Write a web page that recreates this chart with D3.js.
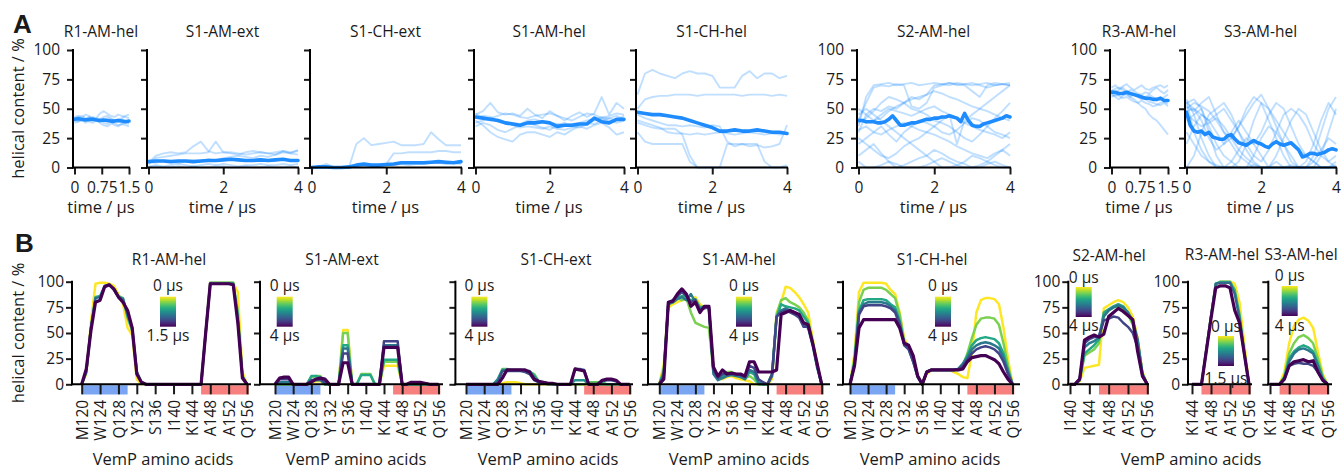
<!DOCTYPE html>
<html>
<head>
<meta charset="utf-8">
<script src="https://cdn.jsdelivr.net/npm/d3@7"></script>
<style>
  body { margin: 0; background: #fff; }
  text { font-family: "Open Sans", "Noto Sans", sans-serif; font-size: 15.5px; fill: #1a1a1a; }
  .axtitle { font-size: 16.5px; }
</style>
</head>
<body>
<svg id="fig" width="1342" height="470"></svg>
<script>
// ---- A: helical content over time (replicas + mean), values in %
const r1TopMean = [41,41.5,41,40.5,41,41,40.5,40,40.5,40,39.5,39.5,40,39.5,39,39.5];
const r1TopReps = [
  [43,44,42,45,44,41,42,46,48,46,44,43,45,44,43,42],
  [40,39,41,38,40,42,40,38,36,35,37,38,36,37,36,35],
  [42,43,44,42,41,43,42,41,43,44,42,40,41,42,44,45],
  [38,39,40,41,39,38,40,41,38,37,39,36,35,37,38,37],
  [41,42,40,41,43,42,41,39,40,42,41,40,39,41,40,38]
];
const s1AmExtMean = [5,5.5,5.5,5,5.5,5.5,5,5.5,6,6,6.5,7,6.5,6,6,6.5,6,6.5,7,6,6];
const s1AmExtReps = [
  [4,10,12,13,12,13,18,22,14,12,13,13,12,11,12,13,12,11,14,12,15],
  [3,8,9,10,11,12,12,12,13,22,13,12,11,13,14,13,12,13,14,13,14],
  [5,4,6,5,4,5,6,5,7,6,8,9,10,9,8,10,9,11,13,12,11],
  [1,2,1,2,3,2,1,2,3,2,3,2,1,2,2,3,2,2,3,2,3],
  [0,1,0,0,1,0,1,0,0,1,1,0,0,1,0,0,1,0,0,1,0]
];
const s1ChExtMean = [0,0.5,0.5,0,0,0.5,2,3,2,2,2.5,3,4,4,4,4,4.5,5,4.5,4,5];
const s1ChExtReps = [
  [0,0,0,0,0,0,20,25,19,20,21,22,19,19,19,20,30,24,19,19,19],
  [0,1,3,0,0,0,0,0,1,2,3,12,12,13,13,13,13,14,14,13,13],
  [0,0,0,0,0,0,1,1,2,1,2,2,3,2,3,3,4,4,3,4,3]
];
const s1AmHelMean = [43,42,41,40,38,37,36,38,38,39,38,35,36,36,37,37,42,39,38,41,41];
const s1AmHelReps = [
  [45,48,55,47,45,46,44,50,45,42,48,44,40,44,47,43,46,60,45,55,50],
  [40,36,30,26,24,22,28,30,30,28,26,30,28,32,35,33,36,38,34,28,30],
  [42,44,43,40,38,36,34,35,34,33,35,33,32,34,36,38,37,40,42,40,44],
  [38,40,42,44,46,45,43,42,44,45,46,44,42,40,43,46,45,42,44,46,45],
  [35,38,36,32,30,33,36,38,36,34,32,36,38,35,34,37,40,42,40,38,40],
  [46,42,40,41,39,38,37,40,41,39,38,37,36,37,38,40,41,43,42,44,41]
];
const s1ChHelMean = [47,46,45,45,44,43,42,40,38,36,34,31,31,32,31,31,32,31,30,30,29];
const s1ChHelReps = [
  [62,80,83,80,78,76,80,82,80,80,78,68,68,68,78,82,76,80,80,76,78],
  [50,58,60,61,61,62,62,62,61,62,62,62,62,62,61,62,62,62,61,62,61],
  [40,38,36,34,30,29,29,28,29,28,29,30,29,28,29,30,29,28,29,28,29],
  [38,36,34,33,33,33,28,10,0,0,0,0,0,0,0,0,0,0,0,0,2],
  [30,22,20,20,20,20,20,5,0,0,0,0,20,20,20,20,20,5,0,0,0],
  [45,42,40,38,36,36,35,36,35,34,36,35,22,18,20,18,19,17,18,20,36]
];
const s2AmHelMean = [40,40,39,39,39,38,38,39,41,44,40,36,36,37,38,38,39,40,41,41,42,42,43,43,44,43,42,39,46,40,36,35,35,37,38,39,40,41,42,44,43];
const s2AmHelReps = [
  [35,60,70,71,72,70,71,72,70,71,72,71,70,72,71,70,71,72,70,71,70],
  [40,55,68,70,69,71,70,52,50,55,68,70,72,71,70,65,60,70,72,71,70],
  [30,45,50,48,52,50,55,60,58,62,70,71,72,70,71,72,70,68,70,71,72],
  [42,38,40,45,50,48,46,44,47,50,52,48,45,20,40,45,50,55,60,65,70],
  [20,25,30,35,28,22,30,35,40,38,35,30,28,32,38,42,40,35,30,28,25],
  [10,15,20,12,5,0,2,5,8,10,15,12,8,5,3,0,2,5,10,15,20],
  [45,50,45,40,35,30,25,20,15,10,5,0,0,2,5,10,8,5,2,0,0],
  [38,42,48,55,60,58,55,50,48,45,40,38,35,30,25,22,28,35,42,48,55],
  [25,20,15,10,8,12,18,22,25,30,28,25,22,18,15,12,10,8,12,15,10],
  [50,45,40,42,48,52,55,58,60,62,65,63,60,58,55,52,50,48,45,42,40],
  [5,0,0,2,5,3,0,0,0,2,5,8,5,2,0,0,0,3,5,2,0],
  [32,35,30,28,32,35,38,35,32,30,35,40,45,42,38,35,32,30,28,25,30]
];
const r3TopMean = [64,64,63,63,64,63,62,61,60,59,59,58,58,59,57,57];
const r3TopReps = [
  [68,70,67,69,71,68,66,68,70,67,66,68,69,70,68,70],
  [62,60,58,61,63,60,58,55,52,50,45,42,40,36,32,28],
  [66,64,66,68,65,63,62,60,58,60,62,60,57,58,60,62],
  [60,62,61,59,60,58,56,55,57,55,54,52,53,55,56,54],
  [65,67,68,66,64,66,65,63,62,64,63,66,68,65,63,66],
  [63,61,62,64,62,60,63,61,59,58,56,55,54,53,55,52]
];
const s3AmHelMean = [47,36,31,30,31,28,30,26,25,24,24,27,28,24,21,20,19,21,23,21,20,18,17,20,22,20,19,20,21,18,15,9,10,12,12,11,12,13,15,16,15];
const s3AmHelReps = [
  [55,58,50,30,10,0,0,5,20,40,55,50,35,20,5,0,0,10,30,50,60],
  [58,45,25,10,0,0,0,0,0,2,0,0,5,0,0,0,0,0,0,0,2],
  [50,55,52,48,40,30,20,10,5,0,0,0,0,0,2,0,0,0,0,0,0],
  [0,10,30,45,50,55,45,30,15,5,0,0,10,25,40,50,45,30,15,5,0],
  [45,40,35,38,42,35,25,15,8,3,0,0,0,0,0,0,0,0,0,0,0],
  [52,48,55,60,45,30,25,35,50,60,55,40,25,10,0,0,0,5,15,25,20],
  [30,20,10,5,0,0,5,15,25,20,10,0,0,0,0,0,5,20,40,55,45],
  [48,50,40,25,15,20,30,40,30,20,30,45,55,50,35,20,10,5,0,0,0],
  [56,30,15,5,2,0,0,0,0,0,0,0,0,0,0,0,0,0,0,0,0],
  [40,45,50,35,20,10,5,0,0,10,25,35,30,20,10,0,0,0,10,30,50],
  [20,35,45,40,30,20,25,35,45,55,62,50,40,30,20,15,10,5,0,0,5],
  [55,50,45,40,45,50,40,30,20,10,5,15,30,45,50,45,35,20,10,5,10]
];

// ---- B: per-residue helical content, one profile per time snapshot (first = 0 us)
const r1Profiles = [
  [0,10,60,98,99,99,98,96,88,78, 55,48,5,0,0,0,0,0,0,0, 0,0,0,0,0,0,0,50,99,99, 99,99,99,99,90,12,0],
  [0,12,55,85,86,95,97,93,86,84, 65,52,12,2,0,0,0,0,0,0, 0,0,0,0,0,0,0,50,99,99, 99,99,99,99,70,8,0],
  [0,12,55,84,85,96,97,92,85,83, 68,55,12,2,0,0,0,0,0,0, 0,0,0,0,0,0,0,50,98,98, 98,98,98,98,62,8,0],
  [0,15,52,80,82,95,97,93,85,80, 72,55,10,2,0,0,0,0,0,0, 0,0,0,0,0,0,0,50,98,98, 98,98,98,97,60,6,0]
];
const s1AmExtProfiles = [
  [0,0,0,0,0,0,0,0,2,3, 3,0,0,0,0,53,53,0,0,0, 0,0,0,0,18,18,18,18,0,0, 0,0,0,0,0,0,0],
  [0,0,0,0,0,0,0,0,7,8, 8,0,0,0,0,50,50,0,0,10, 10,10,0,0,22,22,22,22,0,0, 0,0,0,0,0,0,0],
  [0,0,0,0,0,0,0,0,8,8, 7,0,0,0,0,38,38,0,0,9, 9,9,0,0,24,24,24,24,0,0, 0,0,0,0,0,0,0],
  [0,2,2,2,0,0,0,0,3,4, 4,0,0,0,0,35,35,0,0,0, 0,0,0,0,38,38,38,38,0,0, 0,0,0,0,0,0,0],
  [0,5,5,5,0,0,0,0,4,5, 5,2,0,0,0,30,30,0,0,0, 0,0,0,0,42,42,42,42,0,0, 1,1,1,1,0,0,0],
  [0,6,7,7,0,0,0,0,2,5, 6,5,0,0,0,21,21,0,0,0, 0,0,0,0,36,36,36,36,0,0, 2,2,2,1,0,0,0]
];
const s1ChExtProfiles = [
  [0,0,0,0,0,0,0,0,1,2, 2,2,1,0,0,0,0,0,0,0, 0,0,0,0,0,0,0,0,0,0, 0,0,0,0,0,0,0],
  [0,0,0,0,0,0,0,4,15,15, 14,14,14,13,12,10,3,2,1,1, 0,0,0,0,0,0,0,2,2,2, 2,0,0,0,0,0,0],
  [0,0,0,0,0,0,0,5,14,14, 14,14,14,13,13,8,2,2,1,0, 0,0,0,0,4,4,4,0,0,0, 0,0,0,0,0,0,0],
  [0,0,0,0,0,0,0,2,13,13, 13,13,13,12,10,4,2,1,0,0, 0,0,0,0,15,15,14,0,0,0, 3,4,4,3,0,0,0],
  [0,0,0,0,0,0,0,0,6,14, 14,14,14,14,12,5,3,2,1,1, 0,0,0,0,15,14,13,0,0,0, 4,5,5,4,0,0,0]
];
const s1AmHelProfiles = [
  [0,20,75,78,80,82,83,80,85,78, 75,74,15,6,5,7,8,6,5,4, 3,0,0,0,0,5,70,80,95,94, 90,85,78,70,45,20,0],
  [0,15,78,80,85,82,84,70,60,58, 56,55,12,8,10,12,12,10,8,6, 8,5,0,0,0,10,68,82,84,80, 78,75,70,62,42,18,0],
  [0,12,80,80,84,86,85,82,83,75, 76,75,12,5,8,10,10,9,8,5, 12,10,0,0,0,10,65,78,76,75, 74,72,66,60,40,18,0],
  [0,10,78,80,83,85,82,88,80,74, 75,74,10,4,6,8,9,8,7,5, 14,12,2,0,0,8,66,72,74,72, 70,68,58,55,38,16,0],
  [0,8,80,82,86,90,86,80,82,72, 74,75,14,6,10,10,10,10,9,7, 18,16,5,2,0,10,66,70,72,70, 68,65,56,56,40,18,0],
  [0,5,80,81,88,93,88,76,80,70, 76,76,17,8,14,10,11,10,10,8, 22,22,12,12,12,12,14,68,70,72, 70,68,60,58,40,20,0]
];
const s1ChHelProfiles = [
  [0,30,90,99,99,99,99,99,98,92, 88,70,45,36,25,8,0,10,14,14, 14,14,14,12,10,7,6,30,70,82, 84,84,83,78,55,25,0],
  [0,25,80,92,94,94,94,94,92,88, 84,68,42,36,24,8,0,12,14,14, 14,14,14,14,14,18,30,45,58,64, 65,65,64,58,40,18,0],
  [0,22,72,82,83,83,83,83,82,78, 75,62,40,35,24,8,0,12,14,14, 14,14,14,14,15,20,28,38,43,45, 46,45,44,40,30,14,0],
  [0,20,70,78,80,80,80,80,79,76, 72,60,40,34,22,7,0,12,14,14, 14,14,14,14,15,20,26,34,38,40, 41,40,38,35,26,12,0],
  [0,20,68,76,77,77,77,77,76,74, 70,58,38,34,22,7,0,12,14,14, 14,14,14,14,15,18,24,30,34,36, 37,36,34,30,22,10,0],
  [0,18,55,63,63,63,63,63,63,63, 63,55,40,38,28,8,0,12,14,14, 14,14,14,14,14,15,22,26,27,28, 28,26,24,20,12,5,0]
];
const s2Profiles = [  // residues 140..156
  [0,0,3,16,17,18,19,74,77,80,82,80,75,66,45,12,0],
  [0,0,4,28,31,34,40,68,72,75,76,73,68,58,40,10,0],
  [0,0,4,30,34,38,44,70,73,76,78,76,70,60,42,10,0],
  [0,0,5,36,40,42,46,66,72,75,77,75,70,62,44,10,0],
  [0,0,5,40,44,46,47,62,64,66,65,60,56,50,36,8,0],
  [0,0,5,43,46,48,46,49,66,70,74,71,67,63,32,8,0]
];
const r3Profiles = [  // residues 144..156
  [0,0,0,33,66,97,100,100,100,98,80,40,0],
  [0,0,0,33,66,98,100,100,100,92,68,32,0],
  [0,0,0,33,66,98,99,99,99,88,64,30,0],
  [0,0,0,32,64,94,96,96,94,72,60,30,0]
];
const s3Profiles = [  // residues 144..156
  [0,0,0,12,40,57,63,65,62,55,32,10,0],
  [0,0,0,8,30,40,46,48,45,40,25,8,0],
  [0,0,0,7,25,32,36,38,36,32,20,6,0],
  [0,0,0,6,22,30,34,35,33,30,18,5,0],
  [0,0,0,5,18,20,21,20,20,18,12,4,0],
  [0,0,0,5,18,22,23,24,22,23,12,4,0]
];

const residueTicks = [120,124,128,132,136,140,144,148,152,156];
const residueNames = ["M120","W124","Q128","Y132","S136","I140","K144","A148","A152","Q156"];
const pctTicks = [0,25,50,75,100];
const blueSegment = [120,130];
const redSegment = [146,156.4];

// ---- layout
const svg = d3.select("#fig");
const blue = "#1e8cff";

const topPanels = [
  {title:"R1-AM-hel", mean:r1TopMean, reps:r1TopReps, tmax:1.5, ticks:[0,0.75,1.5], x0:73, x1:129, yLab:true},
  {title:"S1-AM-ext", mean:s1AmExtMean, reps:s1AmExtReps, tmax:4, ticks:[0,2,4], x0:147, x1:298},
  {title:"S1-CH-ext", mean:s1ChExtMean, reps:s1ChExtReps, tmax:4, ticks:[0,2,4], x0:310, x1:461},
  {title:"S1-AM-hel", mean:s1AmHelMean, reps:s1AmHelReps, tmax:4, ticks:[0,2,4], x0:474, x1:624},
  {title:"S1-CH-hel", mean:s1ChHelMean, reps:s1ChHelReps, tmax:4, ticks:[0,2,4], x0:636, x1:787},
  {title:"S2-AM-hel", mean:s2AmHelMean, reps:s2AmHelReps, tmax:4, ticks:[0,2,4], x0:857, x1:1010, yLab:true},
  {title:"R3-AM-hel", mean:r3TopMean, reps:r3TopReps, tmax:1.5, ticks:[0,0.75,1.5], x0:1110, x1:1168, yLab:true},
  {title:"S3-AM-hel", mean:s3AmHelMean, reps:s3AmHelReps, tmax:4, ticks:[0,2,4], x0:1185, x1:1336}
];

const botPanels = [
  {title:"R1-AM-hel", prof:r1Profiles, start:120, rng:[81.7,247], spine:72, end:251, tx:169, ty:265, lx:163, yLab:true,
   cb:{x:160, y:296.7, tb:291, bb:341, bot:"1.5 µs"}},
  {title:"S1-AM-ext", prof:s1AmExtProfiles, start:120, rng:[275,438.5], spine:260, end:443, tx:342, ty:265, lx:356,
   cb:{x:276.7, y:296.7, tb:291, bb:341, bot:"4 µs"}},
  {title:"S1-CH-ext", prof:s1ChExtProfiles, start:120, rng:[466,629.6], spine:455.4, end:633, tx:556, ty:265, lx:548,
   cb:{x:471.4, y:296.7, tb:291, bb:341, bot:"4 µs"}},
  {title:"S1-AM-hel", prof:s1AmHelProfiles, start:120, rng:[659.3,821.7], spine:648, end:830, tx:739, ty:265, lx:739,
   cb:{x:736, y:296.7, tb:291, bb:341, bot:"4 µs"}},
  {title:"S1-CH-hel", prof:s1ChHelProfiles, start:120, rng:[850,1012.5], spine:843, end:1020, tx:932, ty:265, lx:930,
   cb:{x:935, y:296.7, tb:291, bb:341, bot:"4 µs"}},
  {title:"S2-AM-hel", prof:s2Profiles, start:140, rng:[1070,1147.3], spine:1068.3, end:1149, tx:1109, ty:261, yLab:true,
   cb:{x:1075.7, y:287, tb:283, bb:331, bot:"4 µs"}},
  {title:"R3-AM-hel", prof:r3Profiles, start:144, rng:[1192,1249], spine:1188, end:1252, tx:1222, ty:260, yLab:true,
   cb:{x:1218, y:336, tb:332, bb:384, bot:"1.5 µs"}},
  {title:"S3-AM-hel", prof:s3Profiles, start:144, rng:[1270,1327.5], spine:1268.3, end:1332, tx:1301, ty:260,
   cb:{x:1281.7, y:286, tb:281, bb:331, bot:"4 µs"}}
];

// viridis gradient for the little time colour bars
const defs = svg.append("defs");
const grad = defs.append("linearGradient").attr("id","vir").attr("x1",0).attr("y1",0).attr("x2",0).attr("y2",1);
d3.range(11).forEach(k => grad.append("stop").attr("offset", k/10).attr("stop-color", d3.interpolateViridis(1 - k/10)));

function styleAxis(g) {
  g.attr("font-size", 15.5).attr("font-family", '"Open Sans", sans-serif').attr("color", "#1a1a1a");
  g.selectAll(".tick line").attr("stroke-width", 2);
  g.select(".domain").remove();
}

// ---------- row A
const yTop = d3.scaleLinear().domain([0,100]).range([167.5,50]);

topPanels.forEach(p => {
  const g = svg.append("g");
  const x = d3.scaleLinear().domain([0,p.tmax]).range([p.x0+1.5, p.x1]);
  const line = d3.line().x((d,i,a) => x(i*p.tmax/(a.length-1))).y(d => yTop(d));

  g.selectAll(".rep").data(p.reps).join("path")
    .attr("d", line).attr("fill","none").attr("stroke", blue)
    .attr("stroke-opacity", 0.28).attr("stroke-width", 1.9).attr("stroke-linejoin","round");
  g.append("path").datum(p.mean)
    .attr("d", line).attr("fill","none").attr("stroke", blue)
    .attr("stroke-width", 3.6).attr("stroke-linejoin","round").attr("stroke-linecap","round");

  g.append("g").attr("transform", `translate(${p.x0},0)`)
    .call(d3.axisLeft(yTop).tickValues(pctTicks).tickSize(6).tickPadding(7)
      .tickFormat(p.yLab ? d3.format("d") : () => ""))
    .call(styleAxis);
  g.append("g").attr("transform", `translate(0,${yTop(0)})`)
    .call(d3.axisBottom(x).tickValues(p.ticks).tickSize(7).tickPadding(7).tickFormat(d3.format("")))
    .call(styleAxis);
  // spines
  g.append("line").attr("x1",p.x0).attr("x2",p.x0).attr("y1",yTop(100)-1).attr("y2",yTop(0)+1)
    .attr("stroke","#000").attr("stroke-width",2);
  g.append("line").attr("x1",p.x0-1).attr("x2",p.x1+1).attr("y1",yTop(0)).attr("y2",yTop(0))
    .attr("stroke","#000").attr("stroke-width",2);

  g.append("text").attr("x",(p.x0+p.x1)/2).attr("y",36.5).attr("text-anchor","middle").text(p.title);
  g.append("text").attr("class","axtitle").attr("x",(p.x0+p.x1)/2).attr("y",213).attr("text-anchor","middle").text("time / µs");
});

// ---------- row B
const yBot = d3.scaleLinear().domain([0,100]).range([384.3,281.7]);

botPanels.forEach(p => {
  const g = svg.append("g");
  const lastRes = p.start + p.prof[0].length - 1;
  const x = d3.scaleLinear().domain([p.start, lastRes]).range(p.rng);
  const dom0 = x.invert(p.spine), dom1 = x.invert(p.end);

  // helix segment bars under the axis
  [[blueSegment,"#7aa5f3"],[redSegment,"#f77f7e"]].forEach(([seg,c]) => {
    const a = Math.max(seg[0], dom0), b = Math.min(seg[1], dom1);
    if (b > a) g.append("rect").attr("x",x(a)).attr("width",x(b)-x(a))
      .attr("y",385.3).attr("height",9.2).attr("fill",c);
  });

  const n = p.prof.length;
  const line = d3.line().x((d,i) => x(p.start+i)).y(d => yBot(d));
  g.selectAll(".prof").data(p.prof).join("path")
    .attr("d", line).attr("fill","none")
    .attr("stroke", (d,i) => d3.interpolateViridis(1 - i/(n-1)))
    .attr("stroke-width", (d,i) => i === n-1 ? 3.2 : 2.5)
    .attr("stroke-linejoin","round");

  const resTicks = residueTicks.filter(r => r >= p.start);
  g.append("g").attr("transform", `translate(0,${yBot(0)})`)
    .call(d3.axisBottom(x).tickValues(resTicks).tickSize(10)
      .tickFormat(r => residueNames[residueTicks.indexOf(r)]))
    .call(styleAxis)
    .call(a => a.selectAll(".tick text")
      .attr("transform","rotate(-90)").attr("x",-15.5).attr("y",0).attr("dy","0.36em")
      .attr("font-size", 17).style("text-anchor","end"));
  g.append("g").attr("transform", `translate(${p.spine},0)`)
    .call(d3.axisLeft(yBot).tickValues(pctTicks).tickSize(6).tickPadding(2)
      .tickFormat(p.yLab ? d3.format("d") : () => ""))
    .call(styleAxis);
  g.append("line").attr("x1",p.spine).attr("x2",p.spine).attr("y1",yBot(100)-1).attr("y2",yBot(0)+1)
    .attr("stroke","#000").attr("stroke-width",2);
  g.append("line").attr("x1",p.spine-1).attr("x2",p.end).attr("y1",yBot(0)).attr("y2",yBot(0))
    .attr("stroke","#000").attr("stroke-width",2);

  // time colour bar
  const cx = p.cb.x + 8;
  g.append("rect").attr("x",p.cb.x).attr("y",p.cb.y).attr("width",16).attr("height",30).attr("fill","url(#vir)");
  g.append("text").attr("x",cx).attr("y",p.cb.tb).attr("text-anchor","middle").text("0 µs");
  g.append("text").attr("x",cx).attr("y",p.cb.bb).attr("text-anchor","middle").text(p.cb.bot);

  g.append("text").attr("x",p.tx).attr("y",p.ty).attr("text-anchor","middle").text(p.title);
  if (p.lx) g.append("text").attr("class","axtitle").attr("x",p.lx).attr("y",465).attr("text-anchor","middle").text("VemP amino acids");
});
svg.append("text").attr("class","axtitle").attr("x",1191).attr("y",465).attr("text-anchor","middle").text("VemP amino acids");

// y titles and panel letters
[108.5, 333].forEach(cy => {
  svg.append("text").attr("class","axtitle").attr("transform",`translate(24,${cy}) rotate(-90)`).attr("text-anchor","middle")
    .text("helical content / %");
});
svg.append("text").attr("x",13).attr("y",33).style("font-family",'"Liberation Sans", Arial, sans-serif')
  .style("font-weight","bold").style("font-size","26px").text("A");
svg.append("text").attr("x",15).attr("y",252).style("font-family",'"Liberation Sans", Arial, sans-serif')
  .style("font-weight","bold").style("font-size","26px").text("B");
</script>
</body>
</html>
